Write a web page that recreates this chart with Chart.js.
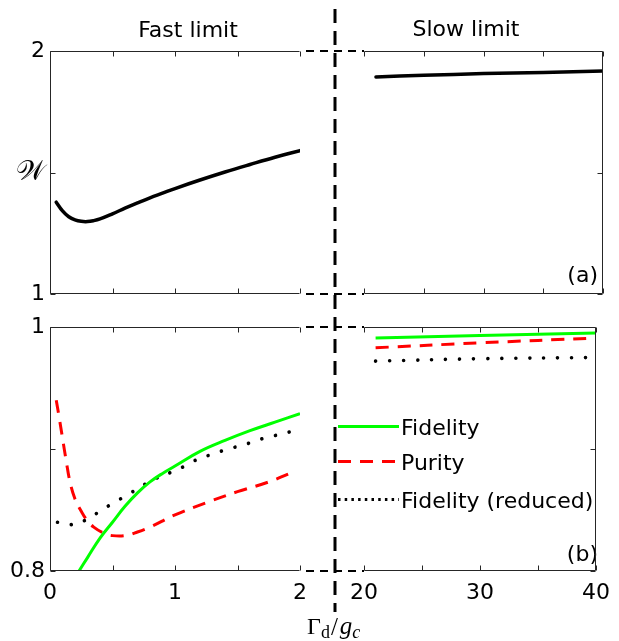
<!DOCTYPE html>
<html>
<head>
<meta charset="utf-8">
<script src="https://cdn.jsdelivr.net/npm/chart.js@4/dist/chart.umd.min.js"></script>
<style>
html,body{margin:0;padding:0;background:#fff;}
#wrap{position:relative;width:619px;height:641px;overflow:hidden;background:#fff;}
#wrap canvas{position:absolute;left:0;top:0;}
</style>
</head>
<body>
<div id="wrap">
<canvas id="ov" width="619" height="641"></canvas>
<canvas id="cTL" width="619" height="641"></canvas>
<canvas id="cTR" width="619" height="641"></canvas>
<canvas id="cBL" width="619" height="641"></canvas>
<canvas id="cBR" width="619" height="641"></canvas>
</div>
<script>
// ---------------- DATA ----------------
// Panel (a): W versus Gamma_d / g_c
const fastXW   = [0.05, 0.1, 0.15, 0.2, 0.25, 0.3, 0.35, 0.4, 0.5, 0.6, 0.7, 0.8, 0.9, 1.0, 1.2, 1.4, 1.6, 1.8, 2.0];
const fastW    = [1.378, 1.342, 1.318, 1.305, 1.299, 1.298, 1.302, 1.309, 1.330, 1.353, 1.375, 1.396, 1.415, 1.434, 1.469, 1.502, 1.533, 1.563, 1.590];
const slowXW   = [21, 25, 30, 35, 40];
const slowW    = [1.893, 1.900, 1.907, 1.912, 1.918];

// Panel (b): Fidelity, Purity, Fidelity (reduced)
const fastXFid = [0.232, 0.3, 0.4, 0.5, 0.6, 0.7, 0.8, 0.9, 1.0, 1.2, 1.4, 1.6, 1.8, 2.0];
const fastFid  = [0.800, 0.811, 0.827, 0.840, 0.853, 0.864, 0.873, 0.880, 0.886, 0.898, 0.907, 0.915, 0.922, 0.929];
const fastXPur = [0.05, 0.07, 0.1, 0.13, 0.16, 0.2, 0.25, 0.3, 0.35, 0.43, 0.5, 0.6, 0.7, 0.8, 1.0, 1.25, 1.5, 1.75, 1.94];
const fastPur  = [0.940, 0.928, 0.909, 0.890, 0.873, 0.859, 0.849, 0.841, 0.836, 0.831, 0.829, 0.829, 0.832, 0.836, 0.846, 0.856, 0.865, 0.873, 0.881];
const fastXRed = [0.06, 0.17, 0.29, 0.4, 0.51, 0.63, 0.74, 0.85, 0.97, 1.08, 1.19, 1.31, 1.42, 1.54, 1.65, 1.76, 1.88, 1.99];
const fastRed  = [0.840, 0.838, 0.842, 0.849, 0.856, 0.863, 0.870, 0.876, 0.881, 0.886, 0.892, 0.896, 0.900, 0.903, 0.907, 0.910, 0.913, 0.916];
const slowXB   = [21, 30, 40];
const slowFid  = [0.991, 0.993, 0.995];
const slowPur  = [0.983, 0.987, 0.991];
const slowRed  = [0.972, 0.974, 0.975];

const seriesLabels = ['Fidelity', 'Purity', 'Fidelity (reduced)'];

// Tick labels
const fastXTickLabels = [0, 1, 2];
const slowXTickLabels = [20, 30, 40];
const wYTickLabels    = [1, 2];
const bYTickLabels    = [0.8, 1];
const wAxisLabel      = '\u{1D4B2}';
const panelTitles     = ['Fast limit', 'Slow limit'];
const panelTags       = ['(a)', '(b)'];

// ---------------- RENDER ----------------
const W_ = 619, H_ = 641;
const FONT = "'DejaVu Sans', 'Liberation Sans', sans-serif";
const SERIF = "'Liberation Serif', 'DejaVu Serif', serif";
const pts = (xs, ys) => xs.map((x, i) => ({ x: x, y: ys[i] }));
const has = (arr, v) => arr.some(a => Math.abs(a - v) < 1e-9);

const styleW   = { borderColor: '#000', borderWidth: 3.5, tension: 0.4, borderCapStyle: 'round' };
const styleFid = { borderColor: '#00ff00', borderWidth: 3, tension: 0.4 };
const stylePur = { borderColor: '#ff0000', borderWidth: 3, borderDash: [13, 9], tension: 0.4, legendDash: [13, 9] };
const styleRed = { borderColor: '#000', borderWidth: 3.6, borderDash: [0.01, 14], borderCapStyle: 'round', tension: 0.4, legendDash: [2.5, 4.2] };

function framePlugin(side) {
  return {
    id: 'frame',
    afterDraw(chart) {
      const ctx = chart.ctx, a = chart.chartArea, x = chart.scales.x, y = chart.scales.y;
      const L = Math.round(a.left) + 0.5, R = Math.round(a.right) - 0.5;
      const T = Math.round(a.top) + 0.5, B = Math.round(a.bottom) - 0.5;
      ctx.save();
      ctx.strokeStyle = '#262626';
      ctx.lineWidth = 1;
      ctx.beginPath();
      if (side === 'left') { ctx.moveTo(R, T); ctx.lineTo(L, T); ctx.lineTo(L, B); ctx.lineTo(R, B); }
      else { ctx.moveTo(L, T); ctx.lineTo(R, T); ctx.lineTo(R, B); ctx.lineTo(L, B); }
      x.ticks.forEach(t => {
        const px = Math.round(x.getPixelForValue(t.value)) + 0.5;
        ctx.moveTo(px, T); ctx.lineTo(px, T + 5);
        ctx.moveTo(px, B); ctx.lineTo(px, B - 5);
      });
      y.ticks.forEach(t => {
        const py = Math.round(y.getPixelForValue(t.value)) + 0.5;
        if (side === 'left') { ctx.moveTo(L, py); ctx.lineTo(L + 5, py); }
        else { ctx.moveTo(R, py); ctx.lineTo(R - 5, py); }
      });
      ctx.stroke();
      ctx.restore();
    }
  };
}

const legendPlugin = {
  id: 'customLegend',
  afterDraw(chart) {
    const ctx = chart.ctx;
    const baselines = [435, 470, 508];
    ctx.save();
    chart.data.datasets.forEach((ds, i) => {
      const cy = baselines[i] - 8.5;
      ctx.strokeStyle = ds.borderColor;
      ctx.lineWidth = 3;
      ctx.lineCap = 'butt';
      ctx.setLineDash(ds.legendDash || []);
      ctx.beginPath();
      ctx.moveTo(338, cy);
      ctx.lineTo(399, cy);
      ctx.stroke();
      ctx.setLineDash([]);
      ctx.fillStyle = '#000';
      ctx.font = '22px ' + FONT;
      ctx.textAlign = 'left';
      ctx.textBaseline = 'alphabetic';
      ctx.fillText(ds.label, 401, baselines[i]);
    });
    ctx.restore();
  }
};

function makePanel(id, cfg) {
  const side = cfg.side;
  return new Chart(document.getElementById(id), {
    type: 'line',
    data: { datasets: cfg.datasets },
    options: {
      responsive: false,
      animation: false,
      devicePixelRatio: 1,
      layout: { autoPadding: false, padding: {
        left: side === 'left' ? 0 : cfg.area.left,
        right: side === 'right' ? 0 : W_ - cfg.area.right,
        top: cfg.area.top, bottom: 0 } },
      plugins: { legend: { display: false }, tooltip: { enabled: false }, title: { display: false } },
      elements: { point: { radius: 0, hoverRadius: 0 } },
      scales: {
        x: {
          type: 'linear', min: cfg.xMin, max: cfg.xMax, position: 'bottom',
          grid: { display: false, drawTicks: false }, border: { display: false },
          ticks: {
            stepSize: cfg.xStep, autoSkip: false, maxRotation: 0, minRotation: 0, padding: 9,
            color: '#000', font: { family: FONT, size: 22 }, includeBounds: true,
            callback: v => (cfg.xLabels && has(cfg.xLabels, v)) ? String(v) : ''
          },
          afterFit: s => { s.height = H_ - cfg.area.bottom; }
        },
        y: {
          type: 'linear', min: cfg.yMin, max: cfg.yMax, position: side,
          grid: { display: false, drawTicks: false }, border: { display: false },
          ticks: {
            stepSize: cfg.yStep, autoSkip: false, padding: 5, color: '#000',
            font: ctx => (cfg.yMid && ctx.tick && Math.abs(ctx.tick.value - cfg.yMid) < 1e-9)
              ? { family: "'DejaVu Serif', 'DejaVu Sans', serif", size: 28 }
              : { family: FONT, size: 22 },
            callback: v => {
              if (side !== 'left') return '';
              if (cfg.yMid && Math.abs(v - cfg.yMid) < 1e-9) return cfg.yMidLabel;
              return has(cfg.yLabels, v) ? String(+v.toFixed(2)) : '';
            }
          },
          afterFit: s => { s.width = side === 'left' ? cfg.area.left : W_ - cfg.area.right; }
        }
      }
    },
    plugins: [framePlugin(side)].concat(cfg.extra || [])
  });
}

const tl = makePanel('cTL', {
  side: 'left', area: { left: 50, right: 300, top: 51, bottom: 294 },
  xMin: 0, xMax: 2, xStep: 0.5, xLabels: null,
  yMin: 1, yMax: 2, yStep: 0.5, yLabels: wYTickLabels, yMid: 1.5, yMidLabel: wAxisLabel,
  datasets: [Object.assign({ label: 'W', data: pts(fastXW, fastW) }, styleW)]
});
const tr = makePanel('cTR', {
  side: 'right', area: { left: 364, right: 603, top: 51, bottom: 294 },
  xMin: 20, xMax: 40, xStep: 5, xLabels: null,
  yMin: 1, yMax: 2, yStep: 0.5, yLabels: [],
  datasets: [Object.assign({ label: 'W', data: pts(slowXW, slowW) }, styleW)]
});
const bl = makePanel('cBL', {
  side: 'left', area: { left: 50, right: 300, top: 327, bottom: 571 },
  xMin: 0, xMax: 2, xStep: 0.5, xLabels: fastXTickLabels,
  yMin: 0.8, yMax: 1, yStep: 0.1, yLabels: bYTickLabels,
  datasets: [
    Object.assign({ label: seriesLabels[0], data: pts(fastXFid, fastFid) }, styleFid),
    Object.assign({ label: seriesLabels[1], data: pts(fastXPur, fastPur) }, stylePur),
    Object.assign({ label: seriesLabels[2], data: pts(fastXRed, fastRed) }, styleRed)
  ]
});

// overlay (drawn underneath the chart canvases)
(function drawOverlay() {
  const c = document.getElementById('ov');
  const ctx = c.getContext('2d');
  ctx.fillStyle = '#fff';
  ctx.fillRect(0, 0, W_, H_);
  ctx.strokeStyle = '#000';
  // vertical dashed break line
  ctx.lineWidth = 3;
  ctx.setLineDash([14, 8]);
  ctx.beginPath(); ctx.moveTo(335, 9); ctx.lineTo(335, 612); ctx.stroke();
  // horizontal dashed connectors between panels
  ctx.lineWidth = 2;
  ctx.setLineDash([8, 6]);
  const a1 = tl.chartArea, a2 = tr.chartArea;
  const b1 = bl.chartArea;
  [[a1, a2.left, a1.top], [a1, a2.left, a1.bottom], [b1, 364, b1.top], [b1, 364, b1.bottom]].forEach(r => {
    const yy = Math.round(r[2]);
    ctx.beginPath(); ctx.moveTo(r[0].right + 6, yy); ctx.lineTo(r[1], yy); ctx.stroke();
  });
  ctx.setLineDash([]);
  // titles
  ctx.fillStyle = '#000';
  ctx.font = '22px ' + FONT;
  ctx.textAlign = 'center';
  ctx.textBaseline = 'alphabetic';
  ctx.fillText(panelTitles[0], 188, 37);
  ctx.fillText(panelTitles[1], 466, 36);
  // panel tags
  ctx.textAlign = 'right';
  ctx.fillText(panelTags[0], 598, 282);
  ctx.fillText(panelTags[1], 598, 561);
  // x-axis title: Γ_d / g_c
  ctx.textAlign = 'left';
  let x = 307;
  const base = 634;
  const parts = [
    ['\u0393', '24px ' + SERIF, 0, 0],
    ['d', '18px ' + SERIF, 4, 1],
    ['/', '25px ' + SERIF, 1, 2],
    ['g', 'italic 25px ' + SERIF, 0, 0],
    ['c', 'italic 18px ' + SERIF, 4, 0]
  ];
  parts.forEach(p => {
    ctx.font = p[1];
    ctx.fillText(p[0], x, base + p[2]);
    x += ctx.measureText(p[0]).width + p[3];
  });
})();

const br = makePanel('cBR', {
  side: 'right', area: { left: 364, right: 603, top: 327, bottom: 571 },
  xMin: 20, xMax: 40, xStep: 5, xLabels: slowXTickLabels,
  yMin: 0.8, yMax: 1, yStep: 0.1, yLabels: [],
  datasets: [
    Object.assign({ label: seriesLabels[0], data: pts(slowXB, slowFid) }, styleFid),
    Object.assign({ label: seriesLabels[1], data: pts(slowXB, slowPur) }, stylePur),
    Object.assign({ label: seriesLabels[2], data: pts(slowXB, slowRed) }, styleRed)
  ],
  extra: [legendPlugin]
});
</script>
</body>
</html>
